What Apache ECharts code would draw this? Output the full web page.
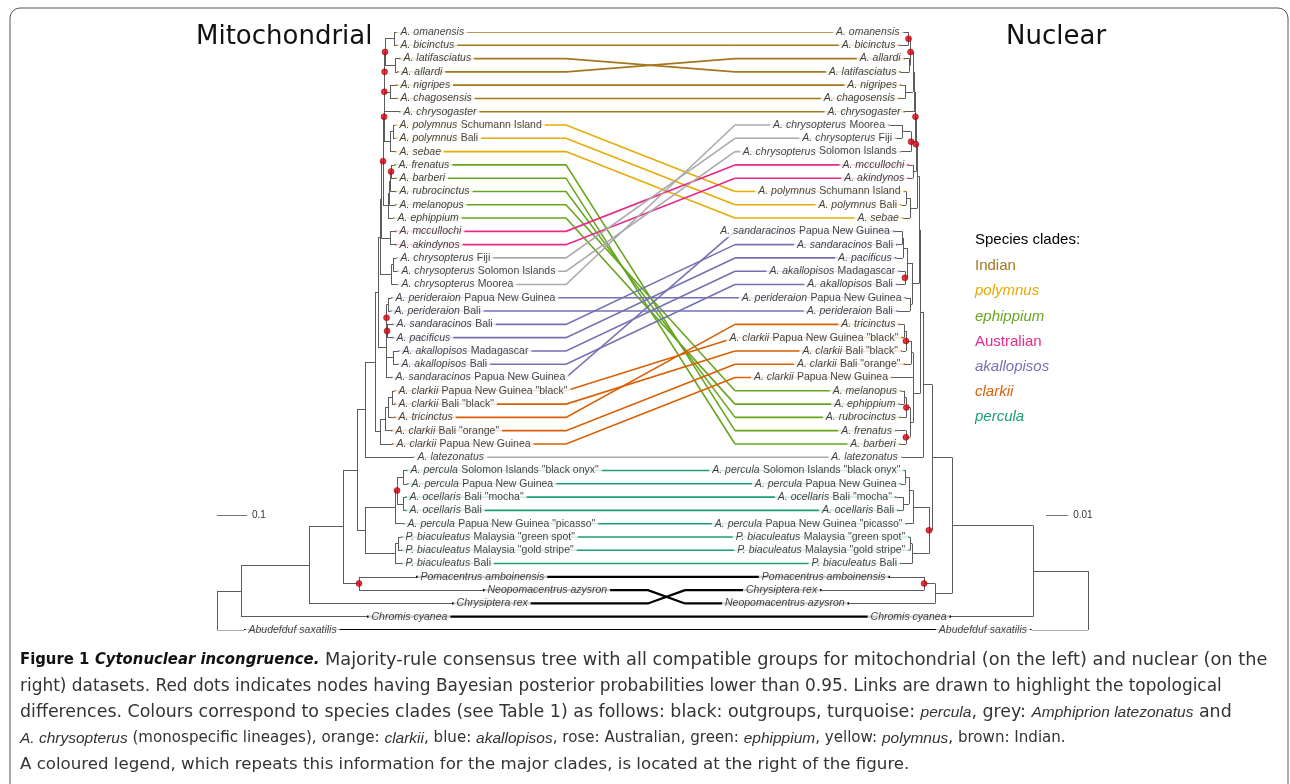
<!DOCTYPE html>
<html><head><meta charset="utf-8">
<script src="https://cdn.jsdelivr.net/npm/echarts@6/dist/echarts.min.js"></script>
<style>html,body{margin:0;padding:0;background:#fff}#main{width:1290px;height:784px}</style>
</head><body><div id="main"></div>
<script>
// ---------------- DATA ----------------
const species = ['oma','bic','lat','all','nig','cha','chg','polS','polB','seb','fre','bar','rub','mel','eph','mcc','aki','chrF','chrS','chrM','pdrP','pdrB','sanB','pac','akaM','akaB','sanP','claPb','claBb','tri','claBo','claP','lz','pcS','pcP','ocM','ocB','pic','biG','biS','biB','pom','neo','chx','chc','abu'];
const speciesName = ['A. omanensis','A. bicinctus','A. latifasciatus','A. allardi','A. nigripes','A. chagosensis','A. chrysogaster','A. polymnus','A. polymnus','A. sebae','A. frenatus','A. barberi','A. rubrocinctus','A. melanopus','A. ephippium','A. mccullochi','A. akindynos','A. chrysopterus','A. chrysopterus','A. chrysopterus','A. perideraion','A. perideraion','A. sandaracinos','A. pacificus','A. akallopisos','A. akallopisos','A. sandaracinos','A. clarkii','A. clarkii','A. tricinctus','A. clarkii','A. clarkii','A. latezonatus','A. percula','A. percula','A. ocellaris','A. ocellaris','A. percula','P. biaculeatus','P. biaculeatus','P. biaculeatus','Pomacentrus amboinensis','Neopomacentrus azysron','Chrysiptera rex','Chromis cyanea','Abudefduf saxatilis'];
const speciesPlace = ['','','','','','','','Schumann Island','Bali','','','','','','','','','Fiji','Solomon Islands','Moorea','Papua New Guinea','Bali','Bali','','Madagascar','Bali','Papua New Guinea','Papua New Guinea "black"','Bali "black"','','Bali "orange"','Papua New Guinea','','Solomon Islands "black onyx"','Papua New Guinea','Bali "mocha"','Bali','Papua New Guinea "picasso"','Malaysia "green spot"','Malaysia "gold stripe"','Bali','','','','',''];
const speciesClade = ['Indian','Indian','Indian','Indian','Indian','Indian','Indian','polymnus','polymnus','polymnus','ephippium','ephippium','ephippium','ephippium','ephippium','Australian','Australian','grey','grey','grey','akallopisos','akallopisos','akallopisos','akallopisos','akallopisos','akallopisos','akallopisos','clarkii','clarkii','clarkii','clarkii','clarkii','grey','percula','percula','percula','percula','percula','percula','percula','percula','outgroup','outgroup','outgroup','outgroup','outgroup'];

// Mitochondrial majority-rule consensus tree (branch lengths, * = posterior < 0.95)
const mitoTree = `
(
 (
  (
   (
    (
     (
      (
       (
        (
         (
          (
           (
            (
             (
              ((oma:0.0067,bic:0.0067):0.03,(lat:0.0133,all:0.0067):0.0333)*:0.0013,
              (nig:0.02,cha:0.02):0.018
             )*:0.001,
             chg:0.049
            )*:0.001,
            ((polS:0.0067,polB:0.0067):0.01,seb:0.0167):0.02
           )*:0.0033,
           ((((fre:0.01,bar:0.0133)*:0.0017,rub:0.015):0.005,mel:0.02):0.0033,eph:0.0167):0.0167
          )*:0.0067,
          (mcc:0.0167,aki:0.0167):0.03
         ):0.0033,
         ((chrF:0.01,chrS:0.0133):0.005,chrM:0.0183):0.0383
        ):0.0067,
        (((pdrP:0.01,pdrB:0.0067):0.005,(sanB:0.0167,pac:0.0167)*:0.0017)*:0.0017,(akaM:0.0167,akaB:0.0133):0.0233,sanP:0.0167):0.0267
       ):0.01,
       ((((claPb:0.0067,claBb:0.0067):0.0133,tri:0.02):0.01,claBo:0.02):0.0167,claP:0.04):0.0167
      ):0.0333,
      lz:0.16
     ):0.0267,
     (
      (((pcS:0.01,pcP:0.0133):0.02,(ocM:0.0067,ocB:0.0067):0.02)*:0.0067,pic:0.0267):0.1,
      ((biG:0.01,biS:0.01):0.01,biB:0.02):0.1
     ):0.0267
    ):0.0467,
    (pom:0.19,neo:0.4133)*:0.0533
   ):0.1133,
   chx:0.4767
  ):0.2267,
  chc:0.42
 ):0.08,
 abu:0.09
);`;

// Nuclear majority-rule consensus tree
const nucTree = `
(
 (
  (
   (
    (
     (
      (
       (
        (
         (
          (
           (
            ((oma:0.002,bic:0.0039)*:0.0009,(all:0.002,lat:0.0039):0.00045)*:0.0011,
            (nig:0.0018,cha:0.0027):0.0034
           ):0.0007,
           chg:0.0043
          ):0.00045,
          ((chrM:0.0057,chrF:0.0025):0.0041,chrS:0.0045)*:0.002
         )*:0.0002,
         (mcc:0.0018,aki:0.0018):0.0014
        )*:0.0007,
        ((polS:0.00045,polB:0.002):0.0018,seb:0.003):0.0034
       ):0.0007,
       ((((sanP:0.0034,sanB:0.002):0.00045,pac:0.003):0.0018,(akaM:0.0023,akaB:0.0034)*:0.0009):0.0023,(pdrP:0.0018,pdrB:0.0057):0.0009):0.0032
      ):0.00045,
      (
       ((((tri:0.0018,claPb:0.00045):0.0009,claBb:0.0016)*:0.0023,claBo:0.0027):0.0009,claP:0.0093):0.0002,
       (((mel:0.0011,eph:0.0018):0.0011,rub:0.0027)*:0.0016,(fre:0.0043,bar:0.0025)*:0.0018):0.0016
      ):0.003
     ):0.0015,
     lz:0.0095
    ):0.004,
    (
     (((pcS:0.0002,pcP:0.002):0.0016,(ocM:0.003,ocB:0.002):0.0027):0.0018,pic:0.0027):0.0073,
     ((biG:0.0002,biS:0.0001):0.0009,biB:0.0048):0.0077
    )*:0.0014
   ):0.0091,
   ((pom:0.0155,chx:0.0466)*:0.005,neo:0.0391):0.0077
  ):0.0368,
  chc:0.0373
 ):0.025,
 abu:0.0257
);`;

const cladeNames = ['Indian','polymnus','ephippium','Australian','akallopisos','clarkii','percula'];
const cladeColors = ['#a6761d','#e6ab02','#66a61e','#e7298a','#7570b3','#d95f02','#1b9e77'];
const cladeItalic = [false,true,true,false,true,true,true];
const extraColors = {grey:'#aaaaaa', outgroup:'#000000'};
const scaleBarMito = 0.1;
const scaleBarNuc = 0.01;

const captionLines = [
  '{b|Figure 1} {bi|Cytonuclear incongruence.} Majority-rule consensus tree with all compatible groups for mitochondrial (on the left) and nuclear (on the',
  'right) datasets. Red dots indicates nodes having Bayesian posterior probabilities lower than 0.95. Links are drawn to highlight the topological',
  'differences. Colours correspond to species clades (see Table 1) as follows: black: outgroups, turquoise: {i|percula}, grey: {i|Amphiprion latezonatus} and',
  '{i|A. chrysopterus} (monospecific lineages), orange: {i|clarkii}, blue: {i|akallopisos}, rose: Australian, green: {i|ephippium}, yellow: {i|polymnus}, brown: Indian.',
  'A coloured legend, which repeats this information for the major clades, is located at the right of the figure.'
];
const captionLineWidths = [1248, 1202, 1212, 1046, 890];

// ---------------- LAYOUT HELPERS ----------------
const MITO_MAX = 2.903, NUC_MAX = 0.396, ROW_MAX = 45;
const BEND = [0.4007, 0.5947], BEND_OUT = [0.4948, 0.5373];
const FONT = '"Liberation Sans", Arial, sans-serif';

function parseNewick(str) {
  const s = str.replace(/\s+/g, '');
  let i = 0;
  function node() {
    const n = {children: [], name: '', len: 0, flag: ''};
    if (s[i] === '(') {
      i++;
      n.children.push(node());
      while (s[i] === ',') { i++; n.children.push(node()); }
      i++;
    }
    let name = '';
    while (i < s.length && !':,);'.includes(s[i])) name += s[i++];
    if (n.children.length) n.flag = name; else n.name = name;
    if (s[i] === ':') {
      i++; let num = '';
      while (i < s.length && !',);'.includes(s[i])) num += s[i++];
      n.len = parseFloat(num);
    }
    return n;
  }
  return node();
}
function layout(root) {
  const leaves = {}, edges = [], red = [];
  let row = 0;
  (function walk(n, pd) {
    n.depth = pd + (n.len || 0);
    if (!n.children.length) { n.y = row++; leaves[n.name] = n; return; }
    n.children.forEach(c => walk(c, n.depth));
    const f = n.children[0], l = n.children[n.children.length - 1];
    n.y = (f.y + l.y) / 2;
    edges.push([[n.depth, f.y], [n.depth, l.y]]);
    n.children.forEach(c => edges.push([[n.depth, c.y], [c.depth, c.y]]));
    if (n.flag === '*') red.push([n.depth, n.y]);
  })(root, 0);
  return {leaves, edges, red};
}
const L = layout(parseNewick(mitoTree));
const R = layout(parseNewick(nucTree));

function colorOf(c) { const k = cladeNames.indexOf(c); return k >= 0 ? cladeColors[k] : extraColors[c]; }
function labelText(k) {
  return speciesPlace[k] ? `{i|${speciesName[k]}} {n|${speciesPlace[k]}}` : `{i|${speciesName[k]}}`;
}
const rich = {
  i: {fontStyle: 'italic', fontFamily: FONT, fontSize: 10.5, color: '#111', lineHeight: 12},
  n: {fontFamily: FONT, fontSize: 10.5, color: '#111', lineHeight: 12}
};

const linkLeft = [], linkRight = [], labL = [], labR = [];
species.forEach((id, k) => {
  const a = L.leaves[id], b = R.leaves[id];
  const col = colorOf(speciesClade[k]);
  const out = speciesClade[k] === 'outgroup';
  const bend = out ? BEND_OUT : BEND;
  const w = out ? 2.2 : 1.6;
  linkLeft.push({coords: [[a.depth, a.y], [bend[0] * MITO_MAX, a.y], [bend[1] * MITO_MAX, b.y]], lineStyle: {color: col, width: w, opacity: 1}});
  linkRight.push({coords: [[(1 - bend[1]) * NUC_MAX, b.y], [b.depth, b.y]], lineStyle: {color: col, width: w, opacity: 1}});
  labL.push([a.depth, a.y, k]);
  labR.push([b.depth, b.y, k]);
});

const treeStyle = {color: '#5c5c5c', width: 1, opacity: 1};
const SCALE_ROW = 36.4;

const graphic = [
  {type: 'rect', z: -10, shape: {x: 10, y: 8, width: 1278, height: 790, r: 10}, style: {fill: 'none', stroke: '#555', lineWidth: 1}},
  {type: 'text', x: 196, y: 37, style: {text: 'Mitochondrial', fontSize: 26, fontFamily: '"DejaVu Sans", sans-serif', fill: '#111', verticalAlign: 'middle'}},
  {type: 'text', x: 1006, y: 37, style: {text: 'Nuclear', fontSize: 26, fontFamily: '"DejaVu Sans", sans-serif', fill: '#111', verticalAlign: 'middle'}},
  {type: 'text', x: 975, y: 240, style: {text: 'Species clades:', fontSize: 15, fontFamily: FONT, fill: '#000', verticalAlign: 'middle'}}
];
cladeNames.forEach((c, k) => {
  graphic.push({type: 'text', x: 975, y: 266 + k * 25.2, style: {text: c, fontSize: 15, fontFamily: FONT, fontStyle: cladeItalic[k] ? 'italic' : 'normal', fill: cladeColors[k], verticalAlign: 'middle'}});
});

// caption: fit each line to the width it has in the figure
const CAP_FONT = '"DejaVu Sans", sans-serif';
const CAP_BOLD_FONT = '"DejaVu Sans Condensed", "DejaVu Sans", sans-serif';
const CAP_ITALIC_FONT = '"Liberation Sans", Arial, sans-serif';
const BASE_R = 16.6, BASE_I = 15.5, BASE_B = 16.5;
const mctx = document.createElement('canvas').getContext('2d');
function segments(line) {
  const out = [], re = /\{(\w+)\|([^}]*)\}|([^{]+)/g; let m;
  while ((m = re.exec(line))) out.push(m[1] ? {st: m[1], t: m[2]} : {st: 'r', t: m[3]});
  return out;
}
function segWidth(sg) {
  if (sg.st === 'b') mctx.font = `bold ${BASE_B}px ${CAP_BOLD_FONT}`;
  else if (sg.st === 'bi') mctx.font = `italic bold ${BASE_B}px ${CAP_BOLD_FONT}`;
  else if (sg.st === 'i') mctx.font = `italic ${BASE_I}px ${CAP_ITALIC_FONT}`;
  else mctx.font = `${BASE_R}px ${CAP_FONT}`;
  return mctx.measureText(sg.t).width;
}
const capRich = {
  b: {fontWeight: 'bold', fontSize: BASE_B, fontFamily: CAP_BOLD_FONT, fill: '#111'},
  bi: {fontWeight: 'bold', fontStyle: 'italic', fontSize: BASE_B, fontFamily: CAP_BOLD_FONT, fill: '#111'},
  i: {fontStyle: 'italic', fontSize: BASE_I, fontFamily: CAP_ITALIC_FONT, fill: '#333'}
};
captionLines.forEach((t, k) => {
  let fixed = 0, vari = 0;
  segments(t).forEach(sg => { const w = segWidth(sg); if (sg.st === 'r') vari += w; else fixed += w; });
  let f = (captionLineWidths[k] - fixed) / vari;
  f = Math.max(0.88, Math.min(1.12, f));
  graphic.push({type: 'text', x: 20, y: 660 + k * 26.1, style: {text: t, rich: capRich, fontSize: BASE_R * f, fontFamily: CAP_FONT, fill: '#333', verticalAlign: 'middle'}});
});

const chart = echarts.init(document.getElementById('main'));
chart.setOption({
  animation: false,
  backgroundColor: '#fff',
  grid: {left: 217, right: 202, top: 32, bottom: 154},
  xAxis: [
    {type: 'value', min: 0, max: MITO_MAX, show: false},
    {type: 'value', min: 0, max: NUC_MAX, inverse: true, show: false, position: 'top'}
  ],
  yAxis: {type: 'value', min: 0, max: ROW_MAX, inverse: true, show: false},
  series: [
    {type: 'lines', coordinateSystem: 'cartesian2d', xAxisIndex: 0, polyline: true, silent: true, z: 1, data: linkLeft},
    {type: 'lines', coordinateSystem: 'cartesian2d', xAxisIndex: 1, polyline: true, silent: true, z: 1, data: linkRight},
    {type: 'lines', coordinateSystem: 'cartesian2d', xAxisIndex: 0, silent: true, z: 3, lineStyle: treeStyle, data: L.edges.map(e => ({coords: e}))},
    {type: 'lines', coordinateSystem: 'cartesian2d', xAxisIndex: 1, silent: true, z: 3, lineStyle: treeStyle, data: R.edges.map(e => ({coords: e}))},
    {type: 'lines', coordinateSystem: 'cartesian2d', xAxisIndex: 0, silent: true, clip: false, z: 3, lineStyle: {color: '#777', width: 1, opacity: 1},
      label: {show: true, position: 'end', distance: 5, formatter: String(scaleBarMito), fontSize: 10, fontFamily: FONT, color: '#333'},
      data: [{coords: [[0, SCALE_ROW], [scaleBarMito, SCALE_ROW]]}]},
    {type: 'lines', coordinateSystem: 'cartesian2d', xAxisIndex: 1, silent: true, clip: false, z: 3, lineStyle: {color: '#777', width: 1, opacity: 1},
      label: {show: true, position: 'end', distance: 5, formatter: String(scaleBarNuc), fontSize: 10, fontFamily: FONT, color: '#333'},
      data: [{coords: [[0.019, SCALE_ROW], [0.019 - scaleBarNuc, SCALE_ROW]]}]},
    {type: 'scatter', xAxisIndex: 0, silent: true, z: 6, symbolSize: 1, itemStyle: {color: 'rgba(0,0,0,0)'}, data: labL,
      label: {show: true, position: 'right', distance: 1, padding: [0, 3, 0, 3], backgroundColor: '#fff', rich,
        formatter: p => labelText(p.data[2])}},
    {type: 'scatter', xAxisIndex: 1, silent: true, z: 6, symbolSize: 1, itemStyle: {color: 'rgba(0,0,0,0)'}, data: labR,
      label: {show: true, position: 'left', distance: 1, padding: [0, 3, 0, 3], backgroundColor: '#fff', rich,
        formatter: p => labelText(p.data[2])}},
    {type: 'scatter', xAxisIndex: 0, silent: true, z: 7, symbolSize: 6, itemStyle: {color: '#e0000f', borderColor: '#700', borderWidth: 0.6}, data: L.red},
    {type: 'scatter', xAxisIndex: 1, silent: true, z: 7, symbolSize: 6, itemStyle: {color: '#e0000f', borderColor: '#700', borderWidth: 0.6}, data: R.red}
  ],
  graphic
});
</script>
</body></html>
